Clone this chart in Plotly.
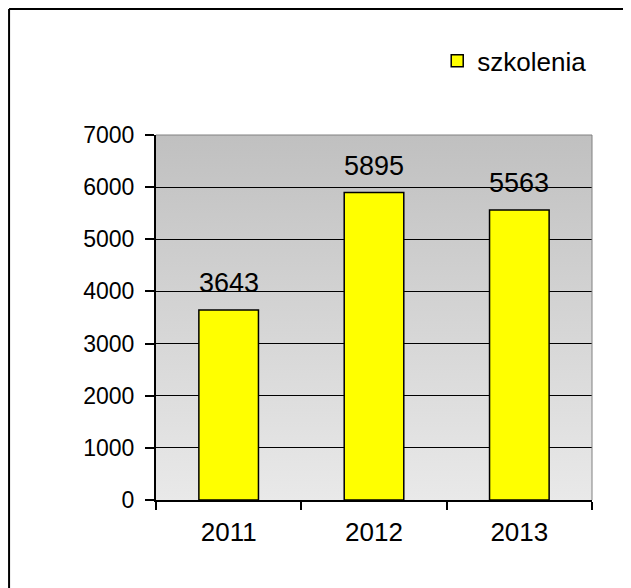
import base64
import plotly.graph_objects as go

years = ["2011", "2012", "2013"]
values = [3643, 5895, 5563]
series_name = "szkolenia"
y_ticks = [0, 1000, 2000, 3000, 4000, 5000, 6000, 7000]

FONT = "Liberation Sans, Arial, sans-serif"

svg = ('<svg xmlns="http://www.w3.org/2000/svg" width="100" height="100" preserveAspectRatio="none">'
       '<defs><linearGradient id="g" x1="0" y1="0" x2="0" y2="1">'
       '<stop offset="0" stop-color="#c0c0c0"/><stop offset="1" stop-color="#e9e9e9"/>'
       '</linearGradient></defs><rect width="100" height="100" fill="url(#g)"/></svg>')
svg_uri = "data:image/svg+xml;base64," + base64.b64encode(svg.encode()).decode()

fig = go.Figure()
fig.add_trace(go.Bar(
    x=years, y=values, name=series_name,
    marker=dict(color="#ffff00", line=dict(color="black", width=1.5)),
    showlegend=True,
))

# value labels above bars (x given as category index)
for i, v in enumerate(values):
    fig.add_annotation(x=i, y=v, text=str(v), showarrow=False,
                       xref="x", yref="y",
                       yanchor="bottom", yshift=10,
                       font=dict(family=FONT, size=27, color="black"))

fig.update_layout(
    width=623, height=580,
    margin=dict(l=148, r=39, t=127, b=88),
    paper_bgcolor="white",
    plot_bgcolor="rgba(0,0,0,0)",
    bargap=0.59,
    font=dict(family=FONT, size=23, color="black"),
    images=[dict(source=svg_uri, xref="paper", yref="paper", x=0, y=1,
                 sizex=1, sizey=1, sizing="stretch", layer="below",
                 xanchor="left", yanchor="top")],
    legend=dict(x=0.645, y=1.203, xanchor="left", yanchor="middle",
                font=dict(family=FONT, size=26), bgcolor="rgba(0,0,0,0)",
                itemwidth=30),
    xaxis=dict(type="category", categoryorder="array", categoryarray=years,
               range=[-0.5, len(years) - 0.5],
               showline=True, linecolor="black", linewidth=2,
               ticks="outside", ticklen=8, tickwidth=1.5, tickcolor="black",
               tickson="boundaries", showgrid=False, ticklabelstandoff=8,
               tickfont=dict(family=FONT, size=26)),
    yaxis=dict(range=[0, 7000], tickvals=y_ticks, showline=True,
               linecolor="black", linewidth=2, ticks="outside", ticklen=9,
               tickwidth=1.5, tickcolor="black", ticklabelstandoff=6,
               showgrid=True, gridcolor="black", gridwidth=1,
               zeroline=False, tickfont=dict(family=FONT, size=23)),
    shapes=[
        dict(type="line", xref="paper", yref="paper", x0=1, x1=1, y0=0, y1=1,
             line=dict(color="#808080", width=1)),
        dict(type="line", xref="paper", yref="paper", x0=0, x1=1, y0=1, y1=1,
             line=dict(color="#808080", width=1)),
        dict(type="line", xref="paper", yref="paper", x0=-0.337, x1=1.2,
             y0=1.345, y1=1.345, line=dict(color="black", width=2)),
        dict(type="line", xref="paper", yref="paper", x0=-0.337, x1=-0.337,
             y0=1.345, y1=-0.4, line=dict(color="black", width=2)),
    ],
)

fig.write_html("out.html")
